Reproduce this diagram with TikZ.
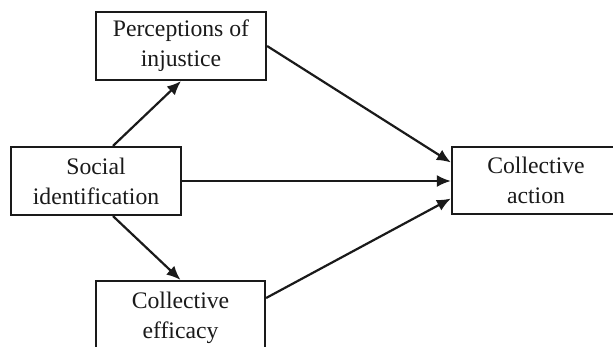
\documentclass[tikz,border=0pt]{standalone}
\usepackage{fontspec}
\setmainfont{Liberation Serif}
\usetikzlibrary{arrows.meta}
\definecolor{ink}{HTML}{1A1A1A}
\begin{document}
\begin{tikzpicture}[x=1pt,y=-1pt,
  box/.style={draw=ink,line width=2.2pt,fill=white,text=ink,align=center,
    inner sep=0pt,font=\fontsize{23.7}{30}\selectfont},
  link/.style={draw=ink,line width=2.2pt,-{Latex[length=14pt,width=12pt]}}]
  \useasboundingbox (0,0) rectangle (613,346);
  \clip (0,0) rectangle (613,346);
  % the four boxes
  \node[box,minimum width=170pt,minimum height=68pt] (inj) at (181,46) {Perceptions of\\injustice};
  \node[box,minimum width=170pt,minimum height=68pt] (soc) at (96,181) {Social\\identification};
  \node[box,minimum width=169pt,minimum height=68pt,text depth=0pt] (eff) at (180.5,315) {Collective\\efficacy};
  \node[box,minimum width=168pt,minimum height=67pt] (act) at (536,180.5) {Collective\\action};
  % paths between them
  \draw[link] ([xshift=17pt]soc.north) -- (inj.south);
  \draw[link] ([xshift=17pt]soc.south) -- (eff.north);
  \draw[link] (inj.east) -- ([yshift=18pt]act.west);
  \draw[link] (soc.east) -- (soc.east -| act.west);
  \draw[link] ([yshift=17pt]eff.east) -- ([yshift=-18pt]act.west);
\end{tikzpicture}
\end{document}
